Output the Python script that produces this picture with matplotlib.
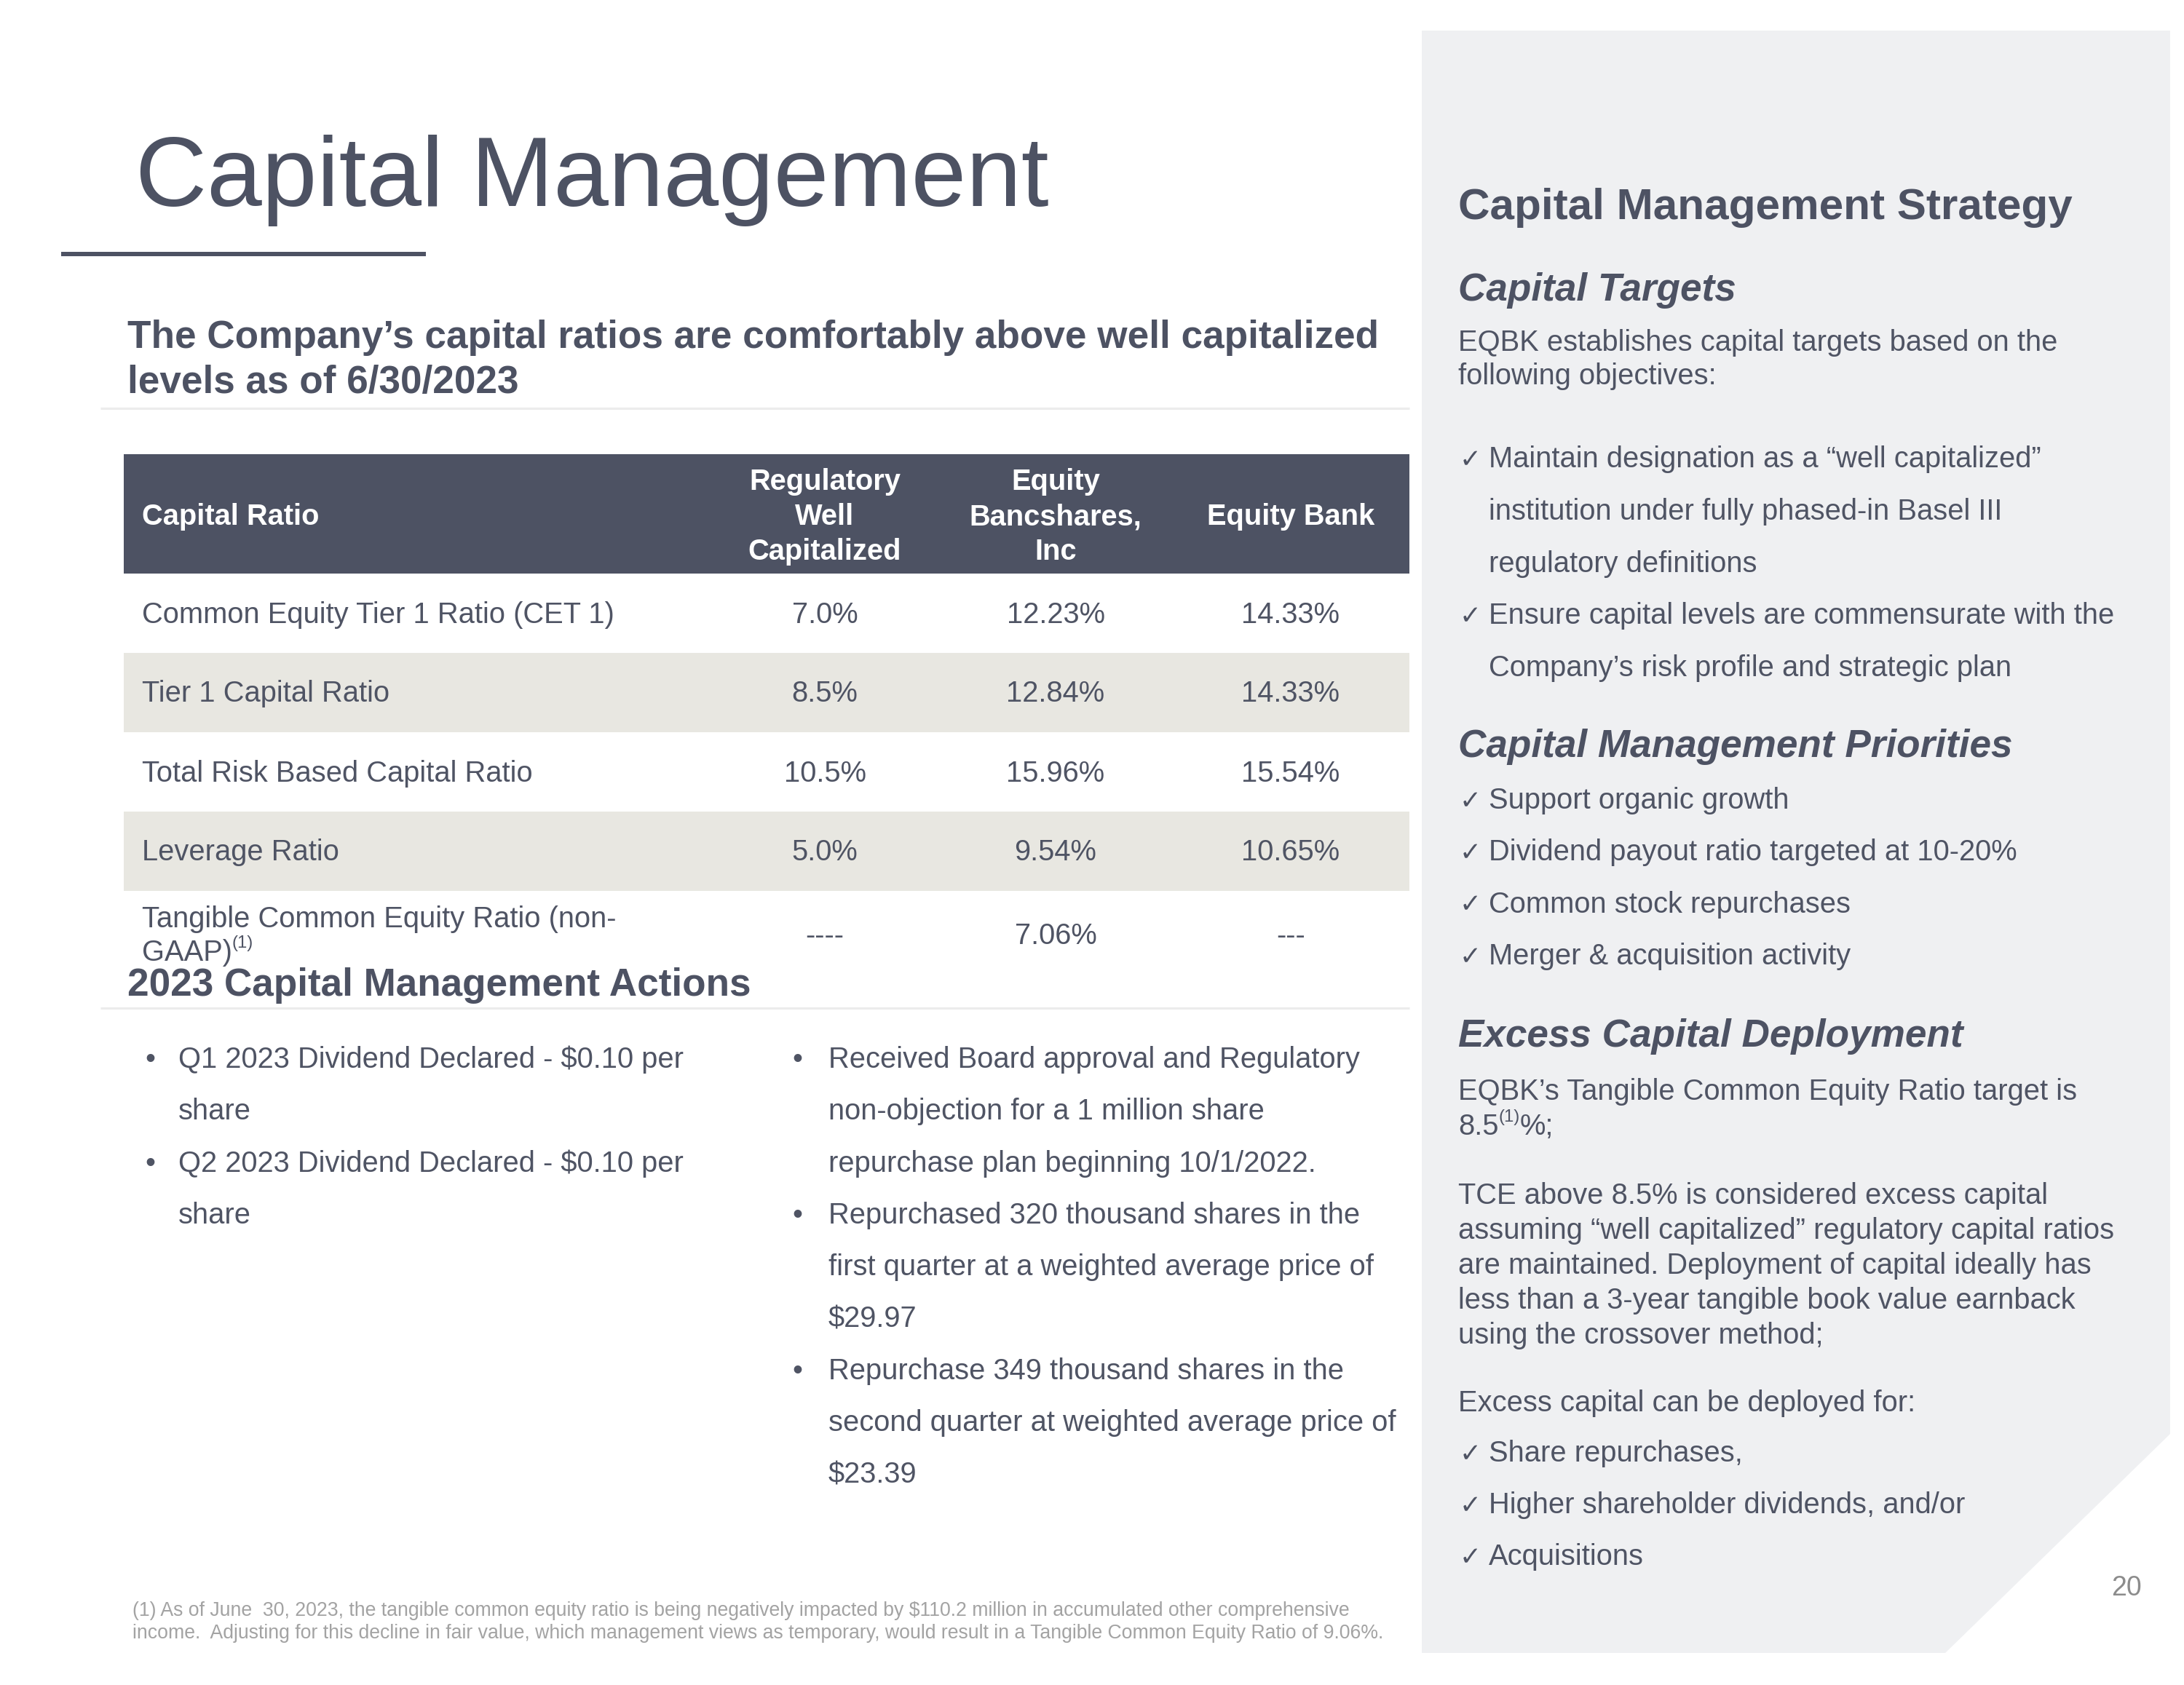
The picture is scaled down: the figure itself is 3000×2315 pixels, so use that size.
import matplotlib
matplotlib.use('Agg')
import matplotlib.pyplot as plt
from matplotlib.patches import Rectangle, Polygon

# ---------------- data ----------------
title = "Capital Management"
subtitle_lines = ["The Company\u2019s capital ratios are comfortably above well capitalized",
                  "levels as of 6/30/2023"]
col_headers = [["Capital Ratio"], ["Regulatory", "Well", "Capitalized"],
               ["Equity", "Bancshares,", "Inc"], ["Equity Bank"]]
ratio_names = ["Common Equity Tier 1 Ratio (CET 1)", "Tier 1 Capital Ratio",
               "Total Risk Based Capital Ratio", "Leverage Ratio",
               "Tangible Common Equity Ratio (non-"]
ratio_name_cont = "GAAP)"
well_capitalized = ["7.0%", "8.5%", "10.5%", "5.0%", "----"]
bancshares = ["12.23%", "12.84%", "15.96%", "9.54%", "7.06%"]
bank = ["14.33%", "14.33%", "15.54%", "10.65%", "---"]

actions_title = "2023 Capital Management Actions"
actions_left = [["Q1 2023 Dividend Declared - $0.10 per", "share"],
                ["Q2 2023 Dividend Declared - $0.10 per", "share"]]
actions_right = [["Received Board approval and Regulatory", "non-objection for a 1 million share",
                  "repurchase plan beginning 10/1/2022."],
                 ["Repurchased 320 thousand shares in the", "first quarter at a weighted average price of",
                  "$29.97"],
                 ["Repurchase 349 thousand shares in the", "second quarter at weighted average price of",
                  "$23.39"]]
footnote = ["(1) As of June  30, 2023, the tangible common equity ratio is being negatively impacted by $110.2 million in accumulated other comprehensive",
            "income.  Adjusting for this decline in fair value, which management views as temporary, would result in a Tangible Common Equity Ratio of 9.06%."]

panel_title = "Capital Management Strategy"
targets_head = "Capital Targets"
targets_intro = ["EQBK establishes capital targets based on the", "following objectives:"]
targets_checks = [["Maintain designation as a \u201cwell capitalized\u201d",
                   "institution under fully phased-in Basel III", "regulatory definitions"],
                  ["Ensure capital levels are commensurate with the",
                   "Company\u2019s risk profile and strategic plan"]]
priorities_head = "Capital Management Priorities"
priorities = ["Support organic growth", "Dividend payout ratio targeted at 10-20%",
              "Common stock repurchases", "Merger & acquisition activity"]
excess_head = "Excess Capital Deployment"
excess_line1 = "EQBK\u2019s Tangible Common Equity Ratio target is"
excess_par = ["TCE above 8.5% is considered excess capital",
              "assuming \u201cwell capitalized\u201d regulatory capital ratios",
              "are maintained. Deployment of capital ideally has",
              "less than a 3-year tangible book value earnback",
              "using the crossover method;"]
excess_for = "Excess capital can be deployed for:"
excess_uses = ["Share repurchases,", "Higher shareholder dividends, and/or", "Acquisitions"]
page_no = "20"

# ---------------- figure ----------------
W, H, DPI = 3000, 2315, 225
FONT = ['Liberation Sans', 'DejaVu Sans']
plt.rcParams['font.family'] = FONT
fig = plt.figure(figsize=(W / DPI, H / DPI), dpi=DPI)
fig.patch.set_facecolor('white')
ax = fig.add_axes([0, 0, 1, 1])
ax.set_xlim(0, W)
ax.set_ylim(H, 0)
ax.axis('off')
renderer = fig.canvas.get_renderer()

DARK = '#4d5263'
TEXT = '#4f5464'
HEADER_BG = '#4d5263'
ROW_BG = '#e8e7e1'
PANEL = '#eff0f2'
BODY = 12.75


def txt(x, y, s, size=BODY, weight='normal', style='normal', color=TEXT, ha='left'):
    return ax.text(x, y, s, fontsize=size, fontweight=weight, fontstyle=style,
                   color=color, ha=ha, va='baseline', family=FONT)


def with_sup(x, y, base, sup, after='', size=BODY, color=TEXT):
    t = txt(x, y, base, size=size, color=color)
    bb = t.get_window_extent(renderer)
    s = txt(bb.x1, y - size * 0.45 * DPI / 72, sup, size=size * 0.6, color=color)
    if after:
        bb2 = s.get_window_extent(renderer)
        txt(bb2.x1, y, after, size=size, color=color)


# right panel background
ax.add_patch(Polygon([(1953, 42), (2981, 42), (2981, 1970), (2672, 2271), (1953, 2271)],
                     closed=True, facecolor=PANEL, edgecolor='none', zorder=0))

# title + rule
txt(186, 283, title, size=43.5, color=DARK)
ax.add_patch(Rectangle((84, 346), 501, 6, facecolor=DARK, edgecolor='none'))

# subtitle
txt(175, 478, subtitle_lines[0], size=17, weight='bold', color=DARK)
txt(175, 540, subtitle_lines[1], size=17, weight='bold', color=DARK)
ax.plot([138, 1936], [561, 561], color='#ececec', lw=1.0, solid_capstyle='butt')

# table
tx0, tx1 = 170, 1936
header_top, header_bot = 624, 788
row_h = 109
col_x = [195, 1133, 1450, 1773]
ax.add_patch(Rectangle((tx0, header_top), tx1 - tx0, header_bot - header_top,
                       facecolor=HEADER_BG, edgecolor='none'))
header_base = [673, 721, 769]
for ci, lines in enumerate(col_headers):
    ha = 'left' if ci == 0 else 'center'
    if len(lines) == 1:
        txt(col_x[ci], header_base[1], lines[0], weight='bold', color='white', ha=ha)
    else:
        for li, ln in enumerate(lines):
            txt(col_x[ci], header_base[li], ln, weight='bold', color='white', ha=ha)

for ri in range(len(ratio_names)):
    top = header_bot + ri * row_h
    if ri % 2 == 1:
        ax.add_patch(Rectangle((tx0, top), tx1 - tx0, row_h, facecolor=ROW_BG, edgecolor='none'))
    base = top + row_h / 2 + 13
    if ri == len(ratio_names) - 1:
        base = top + 73
        txt(col_x[0], top + 50, ratio_names[ri])
        with_sup(col_x[0], top + 96, ratio_name_cont, "(1)")
    else:
        txt(col_x[0], base, ratio_names[ri])
    txt(col_x[1], base, well_capitalized[ri], ha='center')
    txt(col_x[2], base, bancshares[ri], ha='center')
    txt(col_x[3], base, bank[ri], ha='center')

# actions
txt(175, 1368, actions_title, size=17, weight='bold', color=DARK)
ax.plot([138, 1936], [1385, 1385], color='#ececec', lw=1.0, solid_capstyle='butt')

LS = 71.3
y0 = 1467
k = 0
for item in actions_left:
    txt(199, y0 + k * LS, "\u2022")
    for ln in item:
        txt(245, y0 + k * LS, ln)
        k += 1
k = 0
for item in actions_right:
    txt(1088, y0 + k * LS, "\u2022")
    for ln in item:
        txt(1138, y0 + k * LS, ln)
        k += 1

# footnote
txt(182, 2220, footnote[0], size=8.5, color='#a3a3a3')
txt(182, 2251, footnote[1], size=8.5, color='#a3a3a3')

# right panel
PX, PX2 = 2003, 2045
txt(PX, 301, panel_title, size=19.3, weight='bold', color=DARK)
txt(PX, 413, targets_head, size=17, weight='bold', style='italic', color=DARK)
txt(PX, 482, targets_intro[0])
txt(PX, 528, targets_intro[1])

CS = 71.8
yb = 642
k = 0
for item in targets_checks:
    txt(PX + 2, yb + k * CS, "\u2713", size=BODY * 0.9)
    for ln in item:
        txt(PX2, yb + k * CS, ln)
        k += 1

txt(PX, 1040, priorities_head, size=17, weight='bold', style='italic', color=DARK)
for i, p in enumerate(priorities):
    y = 1111 + i * 71.3
    txt(PX + 2, y, "\u2713", size=BODY * 0.9)
    txt(PX2, y, p)

txt(PX, 1438, excess_head, size=17, weight='bold', style='italic', color=DARK)
txt(PX, 1511, excess_line1)
with_sup(PX, 1559, "8.5", "(1)", "%;")
for i, ln in enumerate(excess_par):
    txt(PX, 1654 + i * 48, ln)
txt(PX, 1939, excess_for)
for i, u in enumerate(excess_uses):
    y = 2008 + i * 71
    txt(PX + 2, y, "\u2713", size=BODY * 0.9)
    txt(PX2, y, u)

txt(2942, 2192, page_no, size=12, color='#8c8c8c', ha='right')

fig.savefig('out.png', dpi=DPI, facecolor='white')
